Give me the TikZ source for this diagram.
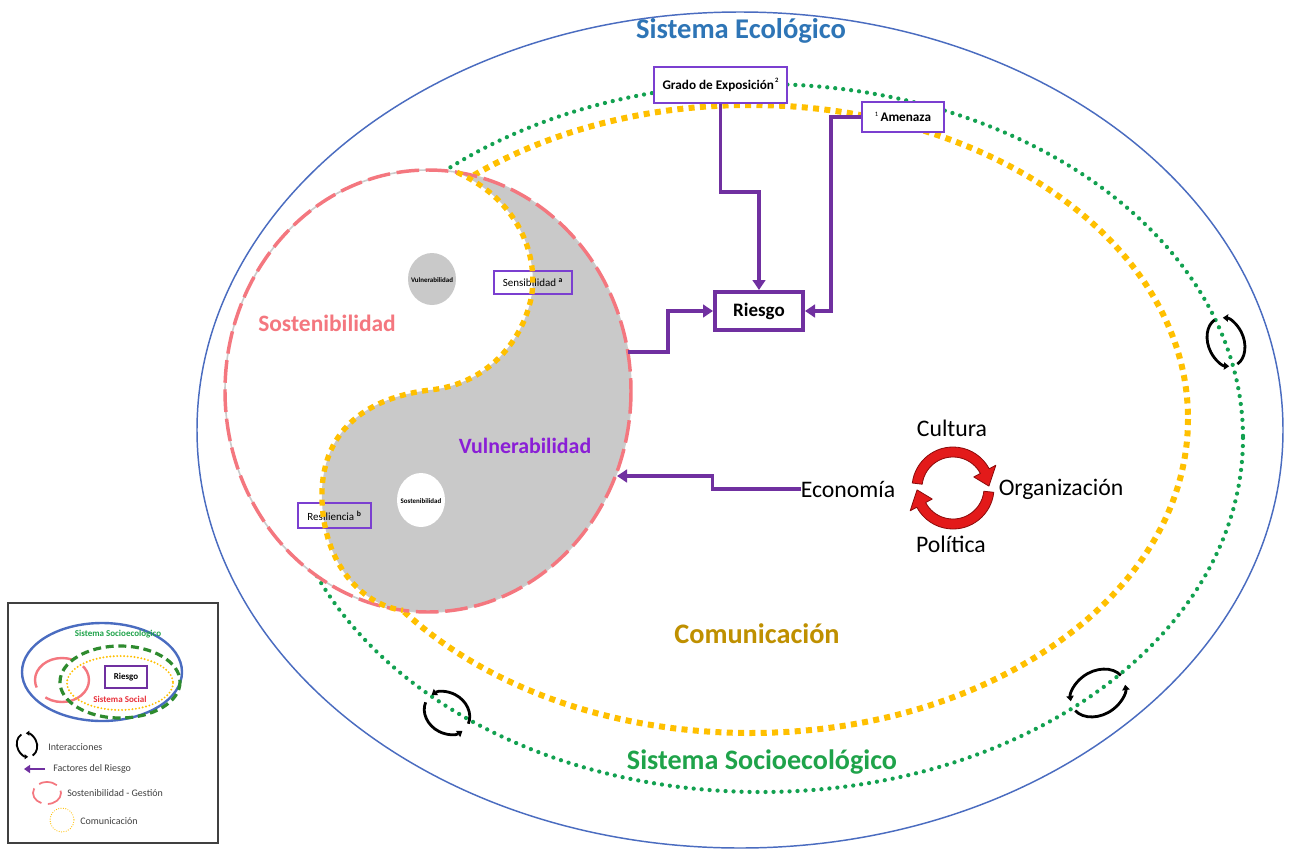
\documentclass[tikz,border=0pt]{standalone}
\usepackage{fontspec}
\setmainfont{Carlito}
\usetikzlibrary{arrows.meta,calc}

\definecolor{ecoblue}{HTML}{2E75B6}
\definecolor{ringblue}{HTML}{4A6CC0}
\definecolor{segreen}{HTML}{1FA34A}
\definecolor{dotgreen}{HTML}{12A150}
\definecolor{legreen}{HTML}{2E8B2E}
\definecolor{comorange}{HTML}{FFC000}
\definecolor{comtext}{HTML}{BF9000}
\definecolor{sostpink}{HTML}{F4777F}
\definecolor{riskpurple}{HTML}{7030A0}
\definecolor{boxpurple}{HTML}{7B3FD0}
\definecolor{vulpurple}{HTML}{8A1ED6}
\definecolor{yygray}{HTML}{C9C9C9}
\definecolor{cycred}{HTML}{E31A1A}
\definecolor{cycdark}{HTML}{8A0A0A}
\definecolor{socred}{HTML}{E8303A}
\definecolor{legtext}{HTML}{404040}

% font size given in pt
\newcommand\fsz[1]{\fontsize{#1}{#1}\selectfont}

% two-arc interaction symbol: x, y, rotation, x radius, y radius, line width
\newcommand\interact[6]{%
  \begin{scope}[shift={(#1,#2)},rotate=#3]
    \draw[black,line width=#6,-{Triangle[length=1.9*#6,width=2.6*#6]}]
      (350:#4 and #5) arc[start angle=350,end angle=197,x radius=#4,y radius=#5];
    \draw[black,line width=#6,-{Triangle[length=1.9*#6,width=2.6*#6]}]
      (170:#4 and #5) arc[start angle=170,end angle=17,x radius=#4,y radius=#5];
  \end{scope}}

\begin{document}
\begin{tikzpicture}[x=0.75pt,y=-0.75pt,
  title/.style={font=\fsz{#1}\bfseries, inner sep=0pt},
  plain/.style={font=\fsz{#1}, inner sep=0pt},
  factorbox/.style={draw=boxpurple, line width=1.5pt, fill=white, inner sep=0pt},
  openbox/.style={draw=boxpurple, line width=1.4pt, inner sep=0pt},
  conn/.style={draw=riskpurple, line width=2.3pt, -{Triangle[length=7.5pt,width=9.5pt]}},
  greendots/.style={dotgreen, line width=3.2pt, line cap=round, dash pattern=on 0pt off 6pt},
  orangedots/.style={comorange, line width=4.5pt, dash pattern=on 4.5pt off 4pt},
  pinkdash/.style={sostpink, line width=2.6pt, dash pattern=on 17pt off 5pt},
  cycfill/.style={fill=cycred, draw=cycdark, line width=0.6pt, line join=round}
]
\useasboundingbox (0,0) rectangle (1290,850);
\fill[white] (0,0) rectangle (1290,850);

% ---------- nested systems ----------
\draw[ringblue, line width=1.1pt] (740,430) ellipse [x radius=543, y radius=418];
\draw[greendots] (761,438) ellipse [x radius=482, y radius=354];
\draw[orangedots] (750,419) ellipse [x radius=438, y radius=314];

% ---------- yin-yang of sustainability and vulnerability ----------
\fill[white] (428,391) ellipse [x radius=203, y radius=221];
\fill[yygray] (457,172.3) .. controls (525,203) and (540,265) .. (530,303)
  .. controls (518,350) and (480,385) .. (430,390)
  .. controls (380,396) and (325,420) .. (322,490)
  .. controls (320,560) and (360,605) .. (403,610.3)
  arc[start angle=97.07, end angle=-81.8, x radius=203, y radius=221] -- cycle;
\draw[gray!40, line width=1.2pt] (428,391) ellipse [x radius=203, y radius=221];
\draw[pinkdash] (428,391) ellipse [x radius=203, y radius=221];

\fill[yygray] (432,279) ellipse [x radius=24, y radius=26];
\node[title=5.2] (vdot) at (432,280) {Vulnerabilidad};
\fill[white] (421,500) ellipse [x radius=24, y radius=27];
\node[title=5.2] (sdot) at (421,501) {Sostenibilidad};

\node[openbox, minimum width=58.5pt, minimum height=17.25pt] (sens) at (533,282.5)
  {\fsz{8.25}Sensibilidad \textsuperscript{\bfseries a}};
\node[openbox, minimum width=54.75pt, minimum height=18.75pt] (resil) at (334.5,515.5)
  {\fsz{8.25}Resiliencia \textsuperscript{\bfseries b}};

\draw[orangedots, line width=4pt] (457,172.3) .. controls (525,203) and (540,265) .. (530,303)
  .. controls (518,350) and (480,385) .. (430,390)
  .. controls (380,396) and (325,420) .. (322,490)
  .. controls (320,560) and (360,605) .. (403,610.3);

\node[title=17.6, text=sostpink] (sostlab) at (327,323) {Sostenibilidad};
\node[title=16.4, text=vulpurple] (vullab) at (525,446) {Vulnerabilidad};

\coordinate (yyout) at (628,352);
\coordinate (yyin) at (617,476);

% ---------- titles ----------
\node[title=21.4, text=ecoblue] (ecotitle) at (741,31) {Sistema Ecológico};
\node[title=21.1, text=segreen] (setitle) at (762,762) {Sistema Socioecológico};
\node[title=21.2, text=comtext] (comtitle) at (757,634) {Comunicación};

% ---------- risk factors ----------
\node[factorbox, minimum width=99.75pt, minimum height=27pt] (grado) at (720.5,85)
  {\fsz{9.9}\bfseries Grado de Exposición\raisebox{5pt}{\fsz{5}\,2}};
\node[factorbox, minimum width=61.5pt, minimum height=22.5pt] (amenaza) at (903,117)
  {\raisebox{4pt}{\fsz{5}1}\,\fsz{9.9}\bfseries Amenaza};
\node[draw=riskpurple, line width=3pt, fill=white, minimum width=66pt, minimum height=28.5pt,
  inner sep=0pt, font=\fsz{14.25}\bfseries] (riesgo) at (759,311) {Riesgo};

\draw[conn] (grado.south) -- ++(0,88) -| (riesgo.north);
\draw[conn] (amenaza.west) -- ++(-30,0) |- (riesgo.east);
\draw[conn] (yyout) -- ++(40,0) |- (riesgo.west);

% ---------- social dimensions ----------
\node[plain=17.8] (cultura) at (952,428) {Cultura};
\node[plain=17.8] (economia) at (848,489) {Economía};
\node[plain=17.8] (organiz) at (1061,489) {Organización};
\node[plain=17.8] (politica) at (951,544) {Política};

\draw[conn] (economia.west) -- ++(-88,0) |- (yyin);

\begin{scope}[shift={(953,488)}]
  \path[cycfill] (187:41) arc[start angle=187, end angle=332, radius=41]
    -- (332:48.5) -- (357:36) -- (332:23.5) -- (332:31)
    arc[start angle=332, end angle=187, radius=31] -- cycle;
  \path[cycfill] (6:41) arc[start angle=6, end angle=152, radius=41]
    -- (152:48.5) -- (177:36) -- (152:23.5) -- (152:31)
    arc[start angle=152, end angle=6, radius=31] -- cycle;
\end{scope}

% ---------- interactions on the socio-ecological boundary ----------
\interact{1226}{342}{110}{25}{18}{2.1pt}
\interact{447}{713}{-35}{24}{20}{2.1pt}
\interact{1098}{693}{30}{29}{22}{2.1pt}

% ---------- legend ----------
\draw[legtext, line width=0.9pt] (8,603) rectangle (218,843);
\draw[ringblue, line width=1.8pt] (102,672) ellipse [x radius=80, y radius=49];
\draw[sostpink, line width=1.8pt, dash pattern=on 42pt off 10pt] (62,680) ellipse [x radius=27, y radius=22];
\draw[legreen, line width=2.4pt, dash pattern=on 6pt off 3.5pt] (120,682) ellipse [x radius=60, y radius=36];
\draw[comorange, line width=1.6pt, line cap=round, dash pattern=on 0pt off 2.6pt] (120,683) ellipse [x radius=53, y radius=27];
\node[title=6.75, text=segreen] (legse) at (118,634) {Sistema Socioecológico};
\node[draw=riskpurple, line width=1.5pt, fill=white, minimum width=31.5pt, minimum height=17pt,
  inner sep=0pt, font=\fsz{6.75}\bfseries] (legriesgo) at (126,677) {Riesgo};
\node[title=6.75, text=socred] (legsoc) at (120,699) {Sistema Social};

\interact{27}{745}{110}{12}{10}{1.4pt}
\node[plain=7.5, text=legtext, anchor=west] (leginter) at (48,747) {Interacciones};
\coordinate (legarrow) at (45,769);
\draw[draw=riskpurple, line width=1.8pt, -{Triangle[length=4.5pt,width=6pt]}] (legarrow) -- ++(-21,0);
\node[plain=7.5, text=legtext, anchor=west] (legfact) at (53,769) {Factores del Riesgo};
\draw[sostpink, line width=1.3pt, dash pattern=on 14pt off 5pt] (47,793) ellipse [x radius=14, y radius=11];
\node[plain=7.5, text=legtext, anchor=west] (legsost) at (67,793) {Sostenibilidad - Gestión};
\draw[comorange, line width=0.9pt, line cap=round, dash pattern=on 0pt off 1.8pt] (62,820) circle [radius=12];
\node[plain=7.5, text=legtext, anchor=west] (legcom) at (80,821) {Comunicación};
\end{tikzpicture}
\end{document}
